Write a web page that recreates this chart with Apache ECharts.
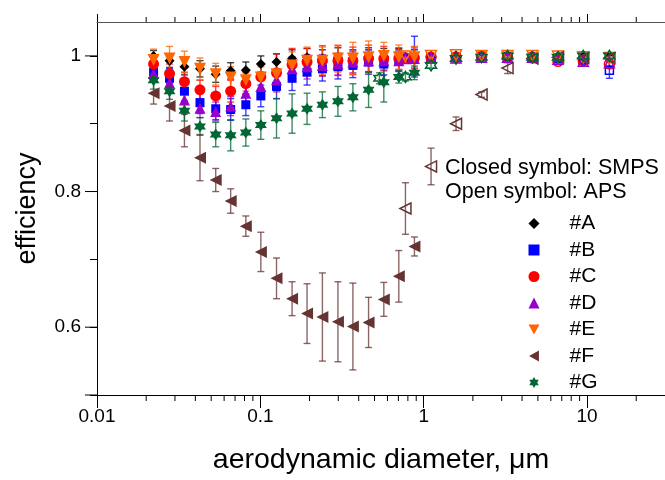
<!DOCTYPE html>
<html><head><meta charset="utf-8">
<script src="https://cdn.jsdelivr.net/npm/echarts@6/dist/echarts.min.js"></script>
<style>html,body{margin:0;padding:0;background:#fff}#c{width:665px;height:480px}</style>
</head><body><div id="c"></div>
<script>
// ---- data ----
const smpsX = [0.0222,0.0278,0.0343,0.0427,0.0533,0.0658,0.0815,0.1007,0.1256,0.1564,0.1931,0.2398,0.2985,0.3686,0.4597,0.5699,0.7038,0.8774];
const apsX  = [0.536,0.773,1.109,1.577,2.26,3.26,4.63,6.64,9.48,13.7];

const A_smps = [1.000,0.993,0.984,0.981,0.973,0.978,0.979,0.988,0.991,0.996,0.998,0.996,0.998,0.997,0.999,0.999,0.999,0.999];
const A_smpsErr = [0.008,0.010,0.012,0.012,0.012,0.012,0.012,0.012,0.012,0.013,0.013,0.013,0.014,0.012,0.013,0.012,0.012,0.010];
const B_smps = [0.976,0.967,0.948,0.931,0.922,0.921,0.928,0.941,0.955,0.967,0.976,0.981,0.984,0.986,0.991,0.988,0.993,0.999];
const B_smpsErr = [0.012,0.014,0.016,0.016,0.016,0.016,0.016,0.016,0.018,0.018,0.019,0.018,0.018,0.018,0.018,0.016,0.016,0.030];
const C_smps = [0.988,0.974,0.962,0.950,0.941,0.948,0.959,0.969,0.975,0.987,0.991,0.993,0.993,0.993,0.996,0.996,0.996,0.997];
const C_smpsErr = [0.012,0.014,0.014,0.014,0.014,0.016,0.016,0.020,0.028,0.024,0.020,0.022,0.022,0.020,0.020,0.018,0.016,0.016];
const D_smps = [0.974,0.960,0.935,0.923,0.918,0.926,0.945,0.955,0.965,0.981,0.984,0.986,0.988,0.991,0.993,0.993,0.993,0.996];
const D_smpsErr = [0.012,0.014,0.014,0.014,0.014,0.014,0.014,0.016,0.016,0.018,0.018,0.016,0.016,0.016,0.016,0.014,0.014,0.014];
const E_smps = [0.994,0.996,0.991,0.981,0.973,0.968,0.964,0.968,0.973,0.986,0.993,0.993,0.996,0.996,0.998,1.000,0.998,0.998];
const E_smpsErr = [0.016,0.018,0.016,0.016,0.016,0.016,0.016,0.016,0.018,0.020,0.020,0.020,0.020,0.024,0.024,0.020,0.018,0.016];
const F_smps = [0.945,0.926,0.890,0.850,0.817,0.786,0.749,0.711,0.672,0.642,0.620,0.615,0.608,0.601,0.607,0.641,0.675,0.719];
const F_smpsErr = [0.016,0.022,0.024,0.034,0.017,0.018,0.015,0.029,0.030,0.025,0.044,0.065,0.059,0.064,0.037,0.025,0.038,0.014];
const G_smps = [0.964,0.948,0.919,0.896,0.884,0.883,0.887,0.898,0.908,0.915,0.922,0.928,0.933,0.939,0.950,0.961,0.969,0.975];
const G_smpsErr = [0.013,0.012,0.015,0.013,0.018,0.023,0.020,0.021,0.029,0.029,0.023,0.019,0.022,0.020,0.026,0.029,0.009,0.010];

const A_aps = [null,0.998,0.999,1.000,1.000,1.000,1.000,0.999,0.998,0.998];
const A_apsErr = [0,0.004,0.003,0.003,0.003,0.003,0.003,0.003,0.003,0.003];
const B_aps = [null,0.996,0.997,0.998,0.999,0.999,0.998,0.996,0.994,0.979];
const B_apsErr = [0,0.004,0.003,0.003,0.003,0.003,0.003,0.004,0.004,0.012];
const C_aps = [null,0.997,0.998,0.998,0.999,0.998,0.997,0.992,0.993,0.988];
const C_apsErr = [0,0.004,0.003,0.003,0.003,0.003,0.003,0.004,0.004,0.006];
const D_aps = [null,0.996,0.997,0.997,0.998,0.998,0.998,0.995,0.992,0.990];
const D_apsErr = [0,0.004,0.003,0.003,0.003,0.003,0.003,0.004,0.004,0.005];
const E_aps = [null,0.999,1.000,1.001,1.000,1.000,1.000,0.999,0.998,0.997];
const E_apsErr = [0,0.004,0.003,0.003,0.003,0.003,0.003,0.003,0.003,0.004];
const F_aps = [null,0.775,0.837,0.900,0.943,0.982,0.996,0.998,0.997,0.997];
const F_apsErr = [0,0.038,0.027,0.010,0.004,0.008,0.004,0.003,0.003,0.003];
const G_aps = [0.967,0.969,0.986,0.996,0.998,1.000,0.998,0.998,1.000,1.000];
const G_apsErr = [0.008,0.006,0.004,0.003,0.003,0.003,0.003,0.003,0.003,0.003];

const names = ['#A','#B','#C','#D','#E','#F','#G'];
const xMinorTicks = [0.02,0.03,0.04,0.05,0.06,0.07,0.08,0.09,0.2,0.3,0.4,0.5,0.6,0.7,0.8,0.9,2,3,4,5,6,7,8,9,20];
const yMajorTicks = [0.5,0.6,0.8,1.0];

// ---- styles ----
const FONT = 'Liberation Sans, Arial, sans-serif';
const colors = ['#000000','#0000FF','#FF0000','#9900CC','#FF6600','#663333','#006633'];
const star6 = 'path://M0,-10L2.89,-5L8.66,-5L5.77,0L8.66,5L2.89,5L0,10L-2.89,5L-8.66,5L-5.77,0L-8.66,-5L-2.89,-5Z';
const triDown = 'path://M0,0L10,0L5,9Z';
const triLeft = 'path://M9,0L9,10L0,5Z';
const symbols = ['diamond','rect','circle','triangle',triDown,triLeft,star6];
const sizes = [10,9,11,11,12,12,12];

const groups = [
  [A_smps,A_smpsErr,A_aps,A_apsErr],
  [B_smps,B_smpsErr,B_aps,B_apsErr],
  [C_smps,C_smpsErr,C_aps,C_apsErr],
  [D_smps,D_smpsErr,D_aps,D_apsErr],
  [E_smps,E_smpsErr,E_aps,E_apsErr],
  [F_smps,F_smpsErr,F_aps,F_apsErr],
  [G_smps,G_smpsErr,G_aps,G_apsErr]
];

function errSeries(color, data) {
  return {
    type:'custom', name:'err', silent:true, clip:false,
    data: data,
    renderItem: function(params, api){
      const x = api.value(0), lo = api.value(1), hi = api.value(2);
      const p1 = api.coord([x, lo]), p2 = api.coord([x, hi]);
      const w = 3.5;
      const st = {stroke:color, lineWidth:1.4, opacity:0.75};
      return {type:'group', children:[
        {type:'line', shape:{x1:p1[0],y1:p1[1],x2:p2[0],y2:p2[1]}, style:st},
        {type:'line', shape:{x1:p1[0]-w,y1:p1[1],x2:p1[0]+w,y2:p1[1]}, style:st},
        {type:'line', shape:{x1:p2[0]-w,y1:p2[1],x2:p2[0]+w,y2:p2[1]}, style:st}
      ]};
    }
  };
}

const series = [];
groups.forEach((g, i) => {
  const [sv, se, av, ae] = g;
  const errData = [];
  sv.forEach((v, k) => errData.push([smpsX[k], v - se[k], v + se[k]]));
  av.forEach((v, k) => { if (v !== null) errData.push([apsX[k], v - ae[k], v + ae[k]]); });
  series.push(errSeries(colors[i], errData));
  series.push({
    type:'scatter', name:names[i], symbol:symbols[i], symbolSize:sizes[i],
    itemStyle:{color:colors[i], opacity:1},
    data: sv.map((v,k)=>[smpsX[k], v])
  });
  series.push({
    type:'scatter', name:names[i], symbol:symbols[i], symbolSize:sizes[i]-1,
    itemStyle:{color:'rgba(255,255,255,0)', borderColor:colors[i], borderWidth:1.5, opacity:1},
    data: av.map((v,k)=> v === null ? null : [apsX[k], v]).filter(d=>d)
  });
});

// extra tick marks (minor x ticks and long y major ticks)
series.push({
  type:'custom', silent:true, clip:false,
  data: xMinorTicks.map(v=>[v, 0.5]),
  renderItem: function(params, api){
    const b = api.coord([api.value(0), 0.5]);
    const t = api.coord([api.value(0), 1.05]);
    const st = {stroke:'#000', lineWidth:1};
    return {type:'group', children:[
      {type:'line', shape:{x1:b[0],y1:b[1],x2:b[0],y2:b[1]+6}, style:st},
      {type:'line', shape:{x1:t[0],y1:t[1],x2:t[0],y2:t[1]-5}, style:st}
    ]};
  }
});
series.push({
  type:'custom', silent:true, clip:false,
  data: yMajorTicks.map(v=>[0.01, v]),
  renderItem: function(params, api){
    const p = api.coord([api.value(0), api.value(1)]);
    return {type:'line', shape:{x1:p[0]-12,y1:p[1],x2:p[0],y2:p[1]}, style:{stroke:'#000', lineWidth:1}};
  }
});

const fmtX = v => String(Number(v.toPrecision(3)));
const chart = echarts.init(document.getElementById('c'), null, {renderer:'canvas'});
chart.setOption({
  animation:false,
  backgroundColor:'#fff',
  textStyle:{fontFamily:FONT},
  grid:{left:97, right:0, top:22, bottom:78, containLabel:false},
  xAxis:[{
    type:'log', min:0.01, max:30, logBase:10, position:'bottom',
    axisLine:{show:true, onZero:false, lineStyle:{color:'#000', width:1}},
    axisTick:{show:true, inside:false, length:13, lineStyle:{color:'#000'}},
    axisLabel:{show:true, color:'#000', fontSize:19, margin:12, formatter:fmtX, showMaxLabel:false},
    splitLine:{show:false},
    name:'aerodynamic diameter, \u03bcm', nameLocation:'middle', nameGap:51,
    nameTextStyle:{color:'#000', fontSize:28.5}
  },{
    type:'log', min:0.01, max:30, logBase:10, position:'top',
    axisLine:{show:true, onZero:false, lineStyle:{color:'#555', width:1}},
    axisTick:{show:true, inside:false, length:8, lineStyle:{color:'#000'}},
    axisLabel:{show:false}, splitLine:{show:false}
  }],
  yAxis:[{
    type:'value', min:0.5, max:1.05, interval:0.1,
    axisLine:{show:true, onZero:false, lineStyle:{color:'#000', width:1}},
    axisTick:{show:true, inside:false, length:7, lineStyle:{color:'#000'}},
    axisLabel:{show:true, color:'#000', fontSize:19, margin:16,
      formatter: v => { const r = Math.round(v*10)/10; return (r===0.6||r===0.8)? String(r) : (r===1 ? '1' : ''); },
      showMaxLabel:false},
    splitLine:{show:false},
    name:'efficiency', nameLocation:'middle', nameGap:56, nameRotate:90,
    nameTextStyle:{color:'#000', fontSize:27}
  }],
  legend:{
    data:names, orient:'vertical', left:523.5, top:208, itemWidth:11, itemHeight:11, itemGap:5.5,
    textStyle:{color:'#000', fontSize:21, lineHeight:21, padding:[0,0,0,25]}, selectedMode:false
  },
  graphic:[
    {type:'text', left:445, top:157, style:{text:'Closed symbol: SMPS', fontSize:21.5, fill:'#000', fontFamily:FONT}},
    {type:'text', left:445, top:181, style:{text:'Open symbol: APS', fontSize:21.5, fill:'#000', fontFamily:FONT}}
  ],
  series: series
});
</script></body></html>
